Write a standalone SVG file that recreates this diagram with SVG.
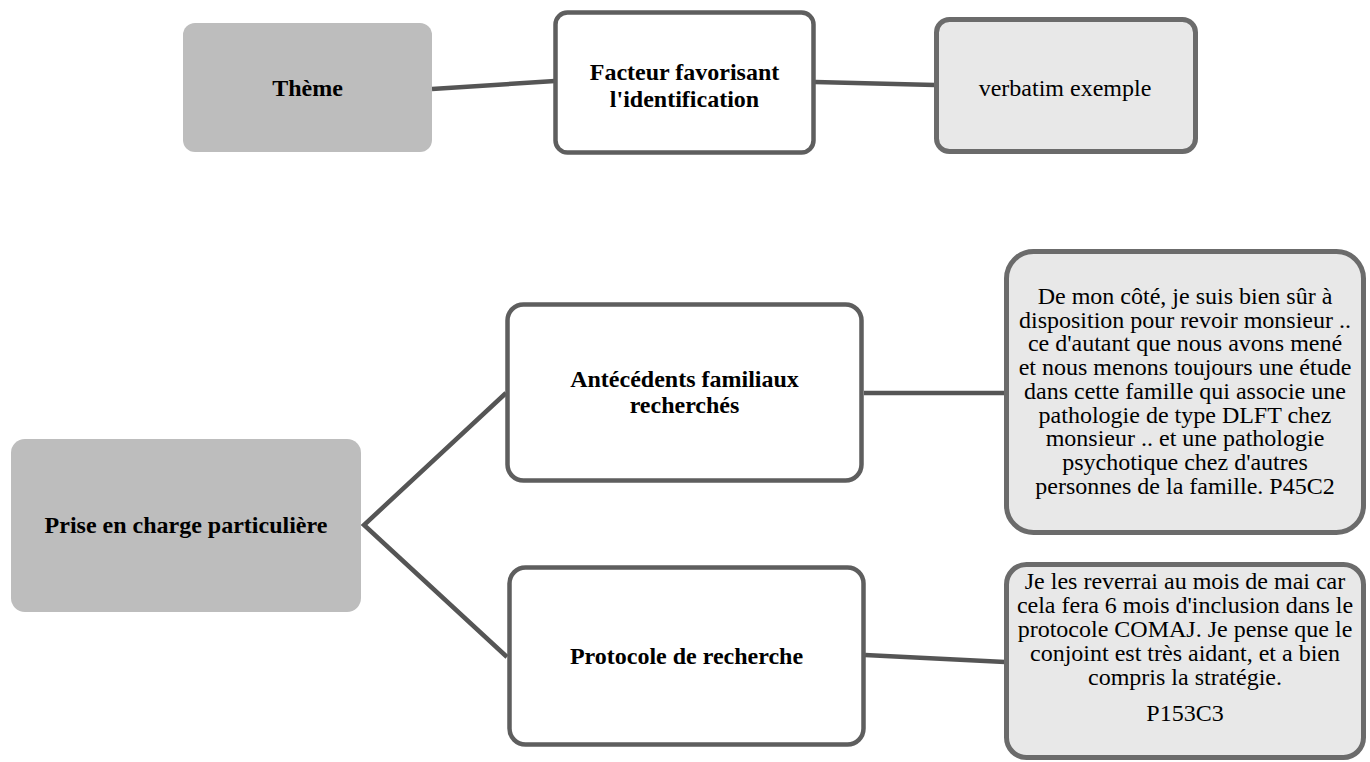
<svg xmlns="http://www.w3.org/2000/svg" width="1370" height="762" viewBox="0 0 1370 762">
<style>
text{font-family:"Liberation Serif","Times New Roman",serif;font-size:24px;fill:#000;text-anchor:middle}
.b{font-weight:bold}
.theme{fill:#bdbdbd;stroke:none}
.mid{fill:#ffffff;stroke:#5e5e5e;stroke-width:4.5}
.verb{fill:#e8e8e8;stroke:#6b6b6b;stroke-width:5}
.conn{fill:none;stroke:#555555;stroke-width:4.5}
</style>
<rect width="1370" height="762" fill="#ffffff"/>
<g id="connectors">
<line class="conn" x1="432" y1="89" x2="555" y2="81"/>
<line class="conn" x1="815" y1="82" x2="935" y2="85"/>
<polyline class="conn" points="506,393 364,525 507,657"/>
<line class="conn" x1="864" y1="393" x2="1005" y2="393"/>
<line class="conn" x1="865" y1="655" x2="1005" y2="662"/>
</g>
<g id="theme">
<rect class="theme" x="183" y="23" width="249" height="129" rx="12"/>
<text class="b" x="307.5" y="96">Thème</text>
</g>
<g id="facteur">
<rect class="mid" x="555.5" y="12.5" width="258" height="140" rx="12"/>
<text class="b" x="684.5" y="80">Facteur favorisant</text>
<text class="b" x="684.5" y="107">l'identification</text>
</g>
<g id="verbatim">
<rect class="verb" x="936.5" y="19.5" width="259" height="132" rx="13"/>
<text x="1065" y="96">verbatim exemple</text>
</g>
<g id="prise">
<rect class="theme" x="11" y="439" width="350" height="173" rx="14"/>
<text class="b" x="186" y="533">Prise en charge particulière</text>
</g>
<g id="antecedents">
<rect class="mid" x="507.5" y="304.5" width="354" height="176" rx="16"/>
<text class="b" x="684.5" y="387">Antécédents familiaux</text>
<text class="b" x="684.5" y="413">recherchés</text>
</g>
<g id="protocole">
<rect class="mid" x="509.5" y="567.5" width="354" height="177" rx="16"/>
<text class="b" x="686.5" y="664">Protocole de recherche</text>
</g>
<g id="verbatim1">
<rect class="verb" x="1006.5" y="251.5" width="357" height="281" rx="27"/>
<text x="1185" y="304">De mon côté, je suis bien sûr à</text>
<text x="1185" y="327.7">disposition pour revoir monsieur ..</text>
<text x="1185" y="351.4">ce d'autant que nous avons mené</text>
<text x="1185" y="375.1">et nous menons toujours une étude</text>
<text x="1185" y="398.8">dans cette famille qui associe une</text>
<text x="1185" y="422.5">pathologie de type DLFT chez</text>
<text x="1185" y="446.2">monsieur .. et une pathologie</text>
<text x="1185" y="469.9">psychotique chez d'autres</text>
<text x="1185" y="493.6">personnes de la famille. P45C2</text>
</g>
<g id="verbatim2">
<rect class="verb" x="1006.5" y="564.5" width="357" height="193" rx="20"/>
<text x="1185" y="589">Je les reverrai au mois de mai car</text>
<text x="1185" y="613">cela fera 6 mois d'inclusion dans le</text>
<text x="1185" y="637">protocole COMAJ. Je pense que le</text>
<text x="1185" y="661">conjoint est très aidant, et a bien</text>
<text x="1185" y="685">compris la stratégie.</text>
<text x="1185" y="721">P153C3</text>
</g>
</svg>
